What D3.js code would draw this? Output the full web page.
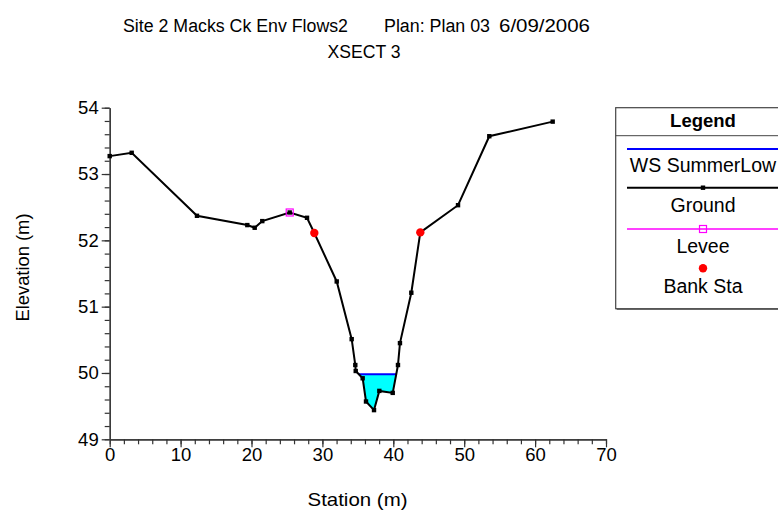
<!DOCTYPE html>
<html>
<head>
<meta charset="utf-8">
<script src="https://cdn.jsdelivr.net/npm/d3@7"></script>
<style>
  html, body { margin: 0; padding: 0; background: #fff; }
  svg { display: block; font-family: Arial, "Liberation Sans", sans-serif; }
</style>
</head>
<body>
<svg id="chart" width="778" height="514"></svg>
<script>
// ---- Data ----
const groundStation = [0, 3.10, 12.31, 19.41, 20.45, 21.52, 25.39, 27.83, 28.86, 32.02, 34.13, 34.64, 34.70, 35.68, 36.15, 37.28, 38.03, 39.92, 40.66, 40.94, 42.54, 43.81, 49.13, 53.54, 62.48];
const groundElev    = [53.27, 53.32, 52.37, 52.23, 52.19, 52.29, 52.42, 52.34, 52.11, 51.38, 50.51, 50.12, 50.03, 49.92, 49.57, 49.44, 49.73, 49.70, 50.12, 50.45, 51.21, 52.12, 52.53, 53.57, 53.79];
const leveeStation = [25.39];
const leveeElev    = [52.42];
const bankStation  = [28.86, 43.81];
const bankElev     = [52.11, 52.12];
const wsElev = 49.98;
const xTicks = [0, 10, 20, 30, 40, 50, 60, 70];
const yTicks = [49, 50, 51, 52, 53, 54];
const legendLabels = ["WS SummerLow", "Ground", "Levee", "Bank Sta"];
const titleParts = ["Site 2 Macks Ck Env Flows2", "Plan: Plan 03", "6/09/2006"];
const subtitle = "XSECT 3";

// ---- Setup ----
const svg = d3.select("#chart");
const x = d3.scaleLinear().domain([0, 70]).range([109.7, 606]);
const y = d3.scaleLinear().domain([49, 54]).range([439.3, 107.7]);

// Title
const titleX = [123, 384, 499], titleW = [225, 106, 91];
titleParts.forEach((p, i) => {
  svg.append("text").attr("x", titleX[i]).attr("y", 31.5).attr("font-size", 18)
    .attr("textLength", titleW[i]).attr("lengthAdjust", "spacingAndGlyphs").text(p);
});
svg.append("text").attr("x", 364).attr("y", 58).attr("text-anchor", "middle")
  .attr("font-size", 17.6).text(subtitle);

// Water fill: intersect WS with ground
const pts = groundStation.map((s, i) => [s, groundElev[i]]);
const poly = [];
let inside = false;
for (let i = 0; i < pts.length - 1; i++) {
  const [x0, y0] = pts[i], [x1, y1] = pts[i + 1];
  if (y0 >= wsElev && y1 < wsElev) {
    const xi = x0 + (wsElev - y0) / (y1 - y0) * (x1 - x0);
    poly.push([xi, wsElev]); inside = true;
  }
  if (inside && y1 < wsElev) poly.push([x1, y1]);
  if (inside && y0 < wsElev && y1 >= wsElev) {
    const xi = x0 + (wsElev - y0) / (y1 - y0) * (x1 - x0);
    poly.push([xi, wsElev]); inside = false;
    break;
  }
}
svg.append("path")
  .attr("d", d3.line().x(d => x(d[0])).y(d => y(d[1]))(poly) + "Z")
  .attr("fill", "#00ffff").attr("stroke", "none");
svg.append("line")
  .attr("x1", x(poly[0][0])).attr("x2", x(poly[poly.length - 1][0]))
  .attr("y1", y(wsElev)).attr("y2", y(wsElev))
  .attr("stroke", "#0000ff").attr("stroke-width", 2);

// Axes
const axisColor = "#333";
function styleAxis(g) {
  g.selectAll("path").attr("stroke", axisColor).attr("stroke-width", 1.2);
  g.selectAll("line").attr("stroke", axisColor).attr("stroke-width", 1.2);
  g.selectAll("text").attr("fill", "#000").attr("font-size", 18.5)
    .attr("font-family", "Arial, 'Liberation Sans', sans-serif");
}
const yMinor = d3.range(49, 54.001, 0.2).map(v => +v.toFixed(1));
const xMinor = d3.range(0, 70.001, 2);
svg.append("g").attr("transform", `translate(${x(0)},0)`)
  .call(d3.axisLeft(y).tickValues(yMinor).tickSize(5).tickFormat("").tickSizeOuter(0))
  .call(styleAxis);
svg.append("g").attr("transform", `translate(${x(0)},0)`)
  .call(d3.axisLeft(y).tickValues(yTicks).tickSize(8).tickPadding(3).tickFormat(d3.format("d")).tickSizeOuter(0))
  .call(styleAxis);
svg.append("g").attr("transform", `translate(0,${y(49)})`)
  .call(d3.axisBottom(x).tickValues(xMinor).tickSize(5).tickFormat("").tickSizeOuter(0))
  .call(styleAxis);
svg.append("g").attr("transform", `translate(0,${y(49)})`)
  .call(d3.axisBottom(x).tickValues(xTicks).tickSize(8).tickPadding(1).tickFormat(d3.format("d")).tickSizeOuter(0))
  .call(styleAxis);

// Axis labels
svg.append("text").attr("x", 307.5).attr("y", 506).attr("font-size", 19)
  .attr("textLength", 100).attr("lengthAdjust", "spacingAndGlyphs").text("Station (m)");
svg.append("text").attr("transform", "translate(29,321.5) rotate(-90)")
  .attr("font-size", 18.5).attr("textLength", 108).attr("lengthAdjust", "spacingAndGlyphs").text("Elevation (m)");

// Ground line
svg.append("path")
  .attr("d", d3.line().x(d => x(d[0])).y(d => y(d[1]))(pts))
  .attr("fill", "none").attr("stroke", "#000").attr("stroke-width", 2);
svg.append("g").selectAll("rect").data(pts).join("rect")
  .attr("x", d => x(d[0]) - 2.2).attr("y", d => y(d[1]) - 2.2)
  .attr("width", 4.4).attr("height", 4.4).attr("fill", "#000");

// Levee
svg.append("g").selectAll("rect").data(leveeStation).join("rect")
  .attr("x", (d, i) => x(d) - 3.5).attr("y", (d, i) => y(leveeElev[i]) - 3.5)
  .attr("width", 7).attr("height", 7).attr("fill", "none")
  .attr("stroke", "#ff00ff").attr("stroke-width", 1.2);

// Bank stations
svg.append("g").selectAll("circle").data(bankStation).join("circle")
  .attr("cx", d => x(d)).attr("cy", (d, i) => y(bankElev[i])).attr("r", 4.2)
  .attr("fill", "#ff0000");

// Legend
const lg = svg.append("g");
const lx0 = 615.7, lx1 = 791, lcx = 703;
lg.append("rect").attr("x", lx0).attr("y", 107.7).attr("width", lx1 - lx0).attr("height", 201)
  .attr("fill", "#fff").attr("stroke", "#444").attr("stroke-width", 1.2);
lg.append("line").attr("x1", lx0).attr("x2", lx1).attr("y1", 135.7).attr("y2", 135.7)
  .attr("stroke", "#444").attr("stroke-width", 1);
lg.append("line").attr("x1", lx0 + 1).attr("x2", lx1).attr("y1", 309.5).attr("y2", 309.5)
  .attr("stroke", "#666").attr("stroke-width", 1);
lg.append("text").attr("x", lcx).attr("y", 127.3).attr("text-anchor", "middle")
  .attr("font-size", 18.5).attr("font-weight", "bold").text("Legend");
const lineStart = 627, lineEnd = 790;
// WS
lg.append("line").attr("x1", lineStart).attr("x2", lineEnd).attr("y1", 149).attr("y2", 149)
  .attr("stroke", "#0000ff").attr("stroke-width", 2);
// Ground
lg.append("line").attr("x1", lineStart).attr("x2", lineEnd).attr("y1", 187.7).attr("y2", 187.7)
  .attr("stroke", "#000").attr("stroke-width", 2);
lg.append("rect").attr("x", lcx - 2.2).attr("y", 187.7 - 2.2).attr("width", 4.4).attr("height", 4.4).attr("fill", "#000");
// Levee
lg.append("line").attr("x1", lineStart).attr("x2", lineEnd).attr("y1", 229).attr("y2", 229)
  .attr("stroke", "#ff00ff").attr("stroke-width", 1.5);
lg.append("rect").attr("x", lcx - 3.5).attr("y", 229 - 3.5).attr("width", 7).attr("height", 7)
  .attr("fill", "none").attr("stroke", "#ff00ff").attr("stroke-width", 1.2);
// Bank
lg.append("circle").attr("cx", lcx).attr("cy", 268.3).attr("r", 4.2).attr("fill", "#ff0000");
const labelY = [172, 211.7, 253, 293];
lg.selectAll("text.lab").data(legendLabels).join("text").attr("class", "lab")
  .attr("x", lcx).attr("y", (d, i) => labelY[i]).attr("text-anchor", "middle")
  .attr("font-size", 19.5).text(d => d);
</script>
</body>
</html>
